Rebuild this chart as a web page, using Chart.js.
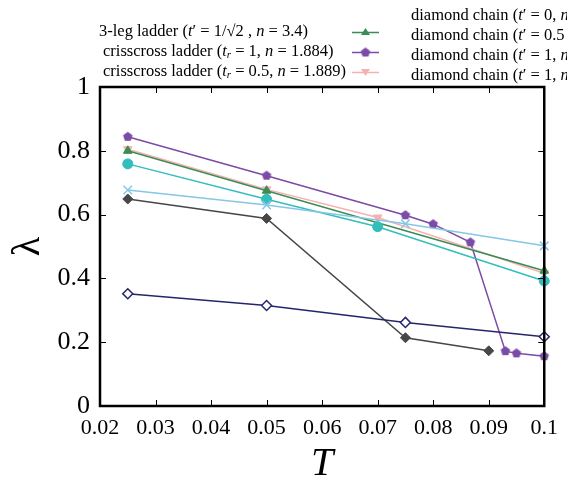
<!DOCTYPE html>
<html>
<head>
<meta charset="utf-8">
<script src="https://cdn.jsdelivr.net/npm/chart.js@4"></script>
<style>
  html, body { margin: 0; padding: 0; background: #fff; }
  body { width: 567px; height: 485px; overflow: hidden; position: relative; }
  #wrap { position: absolute; left: 0; top: 0; width: 567px; height: 485px; }
  .lg { position: absolute; font-family: "Liberation Serif", serif; font-size: 16.5px; white-space: nowrap; line-height: 1; color: #000; }
  .lg sub { font-size: 11px; vertical-align: -2px; line-height: 0; }
</style>
</head>
<body>
<div id="wrap"><canvas id="chart" width="567" height="485"></canvas></div>

<div class="lg" style="left:99px;top:23px">3-leg ladder (<i>t</i>′ = 1/√2 , <i>n</i> = 3.4)</div>
<div class="lg" style="left:103px;top:43px">crisscross ladder (<i>t<sub>r</sub></i> = 1, <i>n</i> = 1.884)</div>
<div class="lg" style="left:103px;top:63px">crisscross ladder (<i>t<sub>r</sub></i> = 0.5, <i>n</i> = 1.889)</div>
<div class="lg" style="left:411px;top:7px">diamond chain (<i>t</i>′ = 0, <i>n</i></div>
<div class="lg" style="left:411px;top:27px">diamond chain (<i>t</i>′ = 0.5</div>
<div class="lg" style="left:411px;top:47px">diamond chain (<i>t</i>′ = 1, <i>n</i></div>
<div class="lg" style="left:411px;top:67px">diamond chain (<i>t</i>′ = 1, <i>n</i></div>

<script>
// values
const ladderX = [0.025, 0.05, 0.1];
const ladderY = [0.800, 0.675, 0.424];

const criss1X = [0.025, 0.05, 0.075, 0.08, 0.0867, 0.093, 0.095, 0.1];
const criss1Y = [0.844, 0.722, 0.598, 0.570, 0.513, 0.172, 0.165, 0.156];

const criss05X = [0.025, 0.05, 0.07, 0.1];
const criss05Y = [0.805, 0.679, 0.591, 0.416];

const diamAX = [0.025, 0.05, 0.07, 0.1];
const diamAY = [0.759, 0.648, 0.562, 0.392];

const diamBX = [0.025, 0.05, 0.075, 0.1];
const diamBY = [0.677, 0.630, 0.571, 0.502];

const diamCX = [0.025, 0.05, 0.075, 0.09];
const diamCY = [0.649, 0.588, 0.214, 0.173];

const diamDX = [0.025, 0.05, 0.075, 0.1];
const diamDY = [0.352, 0.315, 0.262, 0.217];

const xTicks = [0.02, 0.03, 0.04, 0.05, 0.06, 0.07, 0.08, 0.09, 0.1];
const yTicks = [0, 0.2, 0.4, 0.6, 0.8, 1];

const GREEN = "#3b8c55", PURPLE = "#7b4ba7", PINK = "#f6b1b0",
      TEAL = "#33bdbd", SKY = "#86c6e6", GRAY = "#474747", NAVY = "#25256b";

function pts(xs, ys) {
    return xs.map((x, i) => ({x: x, y: ys[i]}));
}

// gnuplot-ish pentagon marker
function pentagon(color, r) {
    let c = document.createElement("canvas");
    c.width = c.height = r * 2 + 2;
    let g = c.getContext("2d");
    g.beginPath();
    for (let i = 0; i < 5; i++) {
        let a = -Math.PI / 2 + i * 2 * Math.PI / 5;
        let px = r + 1 + r * Math.cos(a), py = r + 1 + r * Math.sin(a);
        if (i == 0) g.moveTo(px, py); else g.lineTo(px, py);
    }
    g.closePath();
    g.fillStyle = color;
    g.fill();
    return c;
}
const pent = pentagon(PURPLE, 5);

function ds(label, xs, ys, color, style, extra) {
    return Object.assign({
        label: label,
        data: pts(xs, ys),
        borderColor: color,
        backgroundColor: color,
        borderWidth: 1.5,
        pointStyle: style,
        pointRadius: 5,
        pointBorderWidth: 1,
        pointBorderColor: color,
        pointBackgroundColor: color,
        tension: 0,
        clip: 10
    }, extra || {});
}

const datasets = [
    ds("diamond chain D", diamDX, diamDY, NAVY, "rectRot", {pointBackgroundColor: "#fff", pointBorderWidth: 1.5, pointRadius: 5}),
    ds("diamond chain C", diamCX, diamCY, GRAY, "rectRot", {pointRadius: 5}),
    ds("diamond chain B", diamBX, diamBY, SKY, "crossRot", {pointRadius: 6, pointBorderWidth: 1.5}),
    ds("diamond chain A", diamAX, diamAY, TEAL, "circle", {pointRadius: 5}),
    ds("3-leg ladder", ladderX, ladderY, GREEN, "triangle", {pointRadius: 5}),
    ds("crisscross 0.5", criss05X, criss05Y, PINK, "triangle", {pointRadius: 5, pointRotation: 180}),
    ds("crisscross 1", criss1X, criss1Y, PURPLE, pent, {})
];

// inward ticks on all four sides + frame + legend samples
const framePlugin = {
    id: "frame",
    afterDraw(chart) {
        const ctx = chart.ctx, a = chart.chartArea;
        const xs = chart.scales.x, ys = chart.scales.y;
        ctx.save();
        ctx.strokeStyle = "#000";
        ctx.lineWidth = 1;
        ctx.beginPath();
        xTicks.forEach(v => {
            let p = Math.round(xs.getPixelForValue(v)) + 0.5;
            ctx.moveTo(p, a.bottom); ctx.lineTo(p, a.bottom - 6);
            ctx.moveTo(p, a.top); ctx.lineTo(p, a.top + 6);
        });
        yTicks.forEach(v => {
            let p = Math.round(ys.getPixelForValue(v)) + 0.5;
            ctx.moveTo(a.left, p); ctx.lineTo(a.left + 6, p);
            ctx.moveTo(a.right, p); ctx.lineTo(a.right - 6, p);
        });
        ctx.stroke();
        ctx.lineWidth = 2.5;
        ctx.strokeRect(a.left, a.top, a.right - a.left, a.bottom - a.top);

        // legend samples for the left column
        const samples = [[GREEN, 32, "tri"], [PURPLE, 52, "pent"], [PINK, 72, "itri"]];
        samples.forEach(s => {
            ctx.strokeStyle = s[0];
            ctx.lineWidth = 1.5;
            ctx.beginPath();
            ctx.moveTo(352, s[1] + 0.5); ctx.lineTo(379, s[1] + 0.5);
            ctx.stroke();
            ctx.fillStyle = s[0];
            if (s[2] == "pent") {
                ctx.drawImage(pent, 365.5 - pent.width / 2, s[1] - pent.height / 2 + 0.5);
            } else {
                let d = s[2] == "tri" ? 1 : -1;
                ctx.beginPath();
                ctx.moveTo(365.5, s[1] - 4 * d);
                ctx.lineTo(361, s[1] + 3 * d);
                ctx.lineTo(370, s[1] + 3 * d);
                ctx.closePath();
                ctx.fill();
            }
        });
        ctx.restore();
    }
};

new Chart("chart", {
    type: "line",
    data: { datasets: datasets },
    plugins: [framePlugin],
    options: {
        responsive: false,
        animation: false,
        layout: { padding: { top: 87, right: 21, left: 0, bottom: 0 } },
        plugins: { legend: { display: false }, tooltip: { enabled: false } },
        scales: {
            x: {
                type: "linear",
                min: 0.02, max: 0.1,
                afterFit(s) { s.height = 79; },
                afterBuildTicks(s) { s.ticks = xTicks.map(v => ({value: v})); },
                grid: { display: false, drawTicks: false },
                border: { display: false },
                ticks: {
                    padding: 9,
                    color: "#000",
                    font: { family: "Liberation Serif", size: 22 },
                    maxRotation: 0,
                    autoSkip: false,
                    callback: v => String(+v.toFixed(2))
                },
                title: {
                    display: true,
                    text: "T",
                    color: "#000",
                    font: { family: "Liberation Serif", size: 40, style: "italic", lineHeight: 1 },
                    padding: { top: 0, bottom: 1 }
                }
            },
            y: {
                min: 0, max: 1,
                afterFit(s) { s.width = 100; },
                afterBuildTicks(s) { s.ticks = yTicks.map(v => ({value: v})); },
                grid: { display: false, drawTicks: false },
                border: { display: false },
                ticks: {
                    padding: 10,
                    color: "#000",
                    font: { family: "Liberation Serif", size: 26 },
                    callback: v => String(+v.toFixed(1))
                },
                title: {
                    display: true,
                    text: "λ",
                    color: "#000",
                    font: { family: "Liberation Serif", size: 40, lineHeight: 1 },
                    padding: { top: 8, bottom: 0 }
                }
            }
        }
    }
});
</script>
</body>
</html>
